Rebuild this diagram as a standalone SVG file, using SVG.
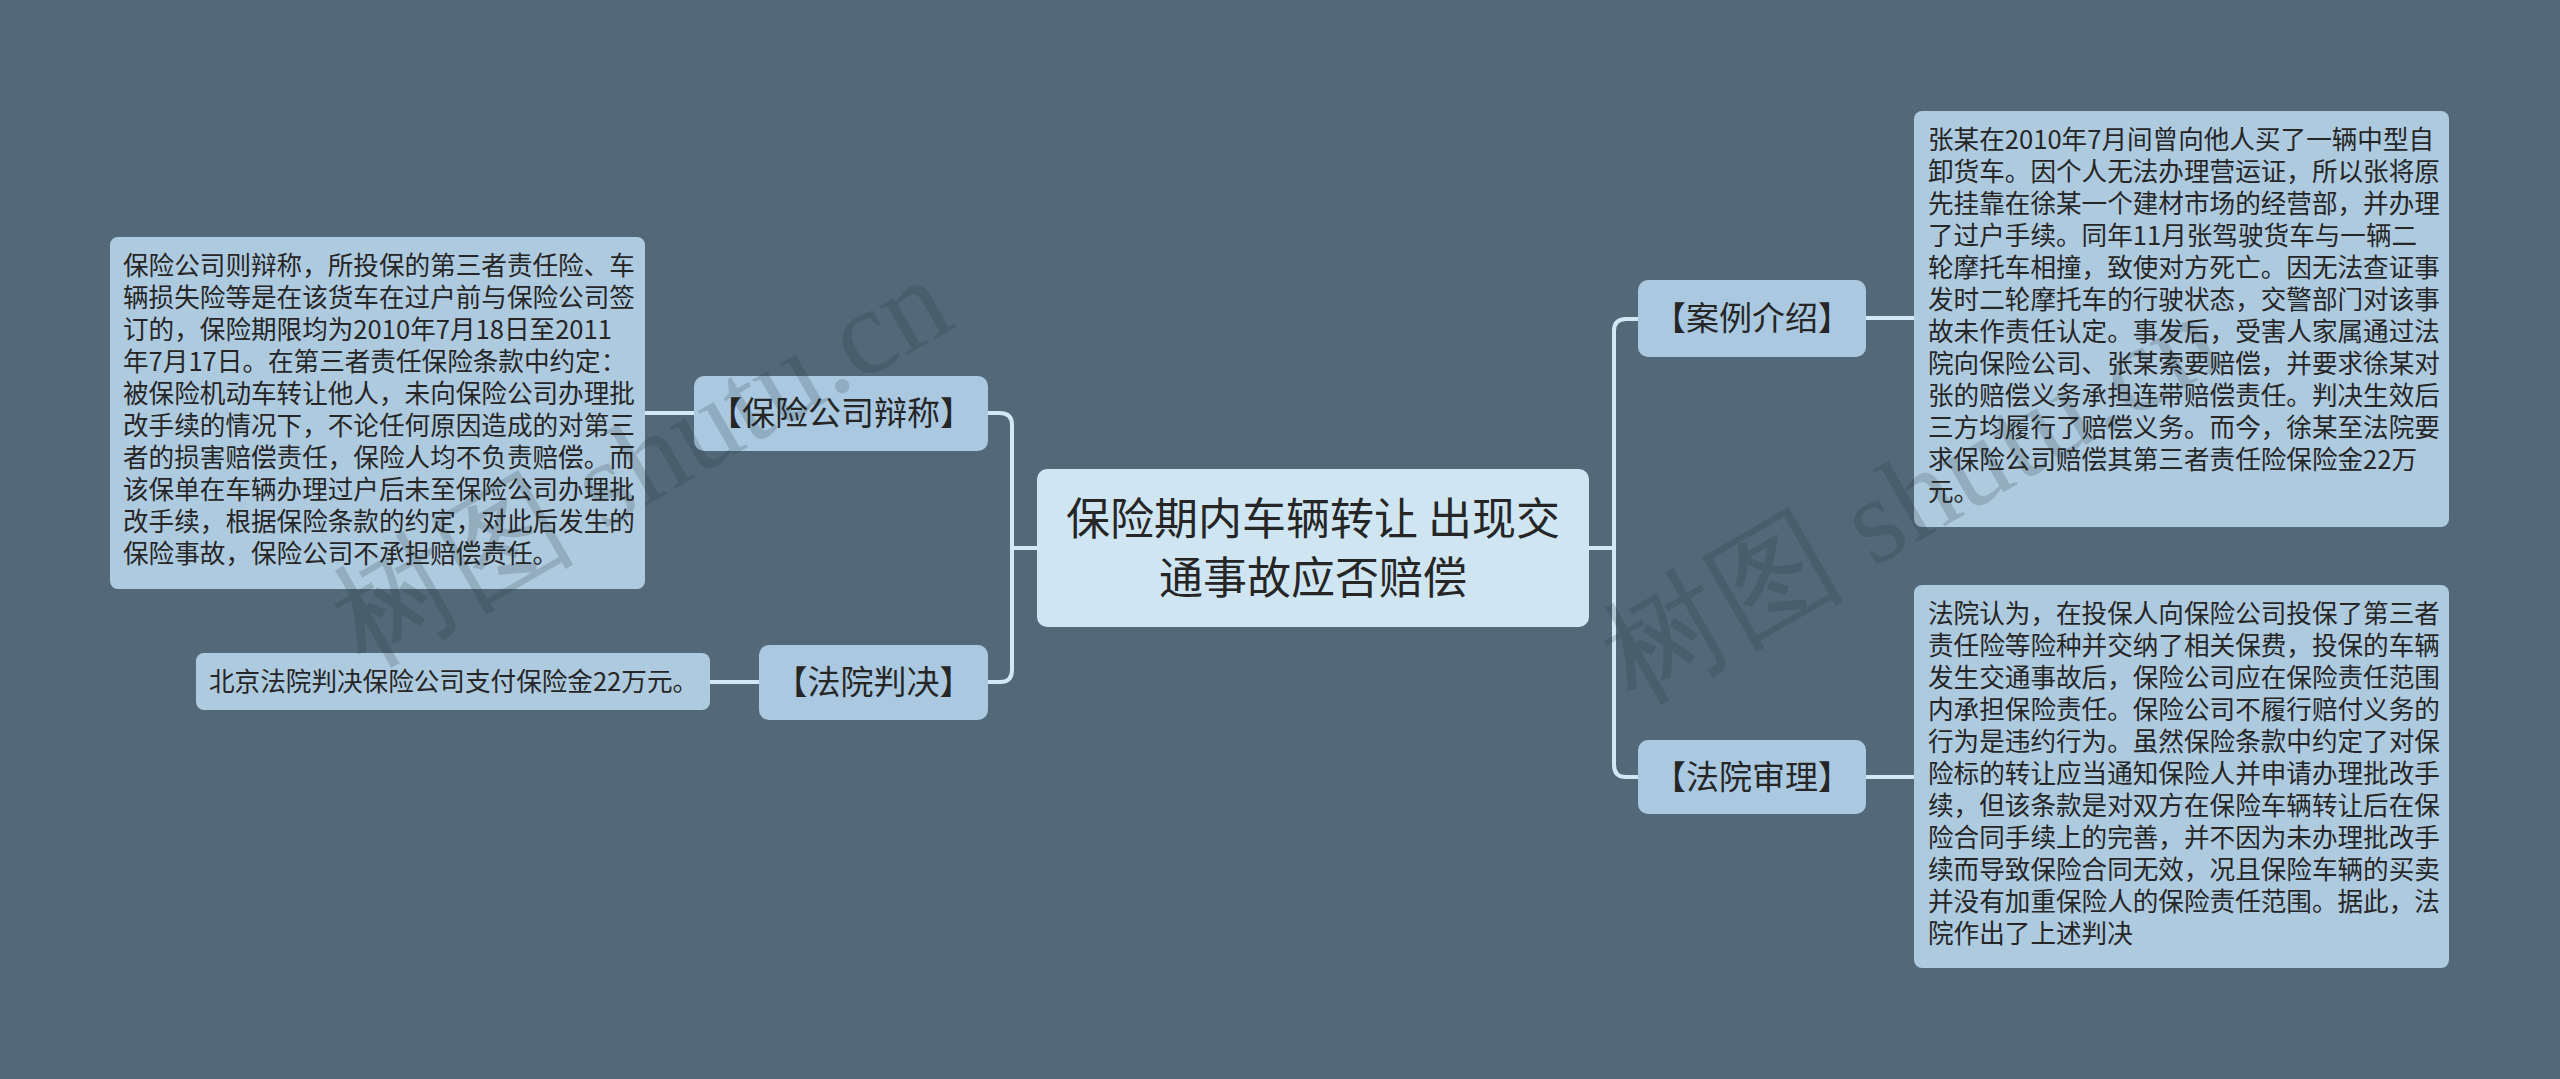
<svg xmlns="http://www.w3.org/2000/svg" width="2560" height="1079" viewBox="0 0 2560 1079">
<style>
.bg{fill:#536979}
.conn{fill:none;stroke:#d2e8f5;stroke-width:4;stroke-linecap:round;stroke-linejoin:round}
.root{fill:#cfe5f2}
.branch{fill:#aac9e0}
.leaf{fill:#aecadf}
text{font-family:"Noto Sans CJK SC","Noto Sans",sans-serif;fill:#262626}
.t-root{font-size:44px;text-anchor:middle}
.t-branch{font-size:33px;text-anchor:middle}
.t-leaf{font-size:25.6px}
.wm{font-family:"Liberation Serif","DejaVu Serif",serif;font-size:122px;fill:#1e2a33;fill-opacity:0.18}
</style>
<rect class="bg" x="0" y="0" width="2560" height="1079"/>
<g id="connectors">
<path class="conn" d="M1037,548 H1012"/>
<path class="conn" d="M988,413 H1000 Q1012,413 1012,425 V670 Q1012,682 1000,682 H988"/>
<path class="conn" d="M1589,548 H1614"/>
<path class="conn" d="M1638,319 H1626 Q1614,319 1614,331 V765 Q1614,777 1626,777 H1638"/>
<path class="conn" d="M694,413 H645"/>
<path class="conn" d="M759,682 H710"/>
<path class="conn" d="M1866,318 H1914"/>
<path class="conn" d="M1866,777 H1914"/>
</g>
<g id="root">
<rect class="root" x="1037" y="469" width="552" height="158" rx="10"/>
<text class="t-root" x="1313" y="535">保险期内车辆转让 出现交</text>
<text class="t-root" x="1313" y="594">通事故应否赔偿</text>
</g>
<g id="node-baoxian">
<rect class="branch" x="694" y="376" width="294" height="75" rx="10"/>
<text class="t-branch" x="841" y="425">【保险公司辩称】</text>
</g>
<g id="node-panjue">
<rect class="branch" x="759" y="645" width="229" height="75" rx="10"/>
<text class="t-branch" x="873.5" y="694">【法院判决】</text>
</g>
<g id="node-anli">
<rect class="branch" x="1638" y="280" width="228" height="77" rx="10"/>
<text class="t-branch" x="1752" y="330">【案例介绍】</text>
</g>
<g id="node-shenli">
<rect class="branch" x="1638" y="740" width="228" height="74" rx="10"/>
<text class="t-branch" x="1752" y="789">【法院审理】</text>
</g>
<g id="leaf-baoxian">
<rect class="leaf" x="110" y="237" width="535" height="352" rx="8"/>
<text class="t-leaf" x="123" y="275">
<tspan x="123" dy="0">保险公司则辩称，所投保的第三者责任险、车</tspan>
<tspan x="123" dy="32">辆损失险等是在该货车在过户前与保险公司签</tspan>
<tspan x="123" dy="32">订的，保险期限均为2010年7月18日至2011</tspan>
<tspan x="123" dy="32">年7月17日。在第三者责任保险条款中约定：</tspan>
<tspan x="123" dy="32">被保险机动车转让他人，未向保险公司办理批</tspan>
<tspan x="123" dy="32">改手续的情况下，不论任何原因造成的对第三</tspan>
<tspan x="123" dy="32">者的损害赔偿责任，保险人均不负责赔偿。而</tspan>
<tspan x="123" dy="32">该保单在车辆办理过户后未至保险公司办理批</tspan>
<tspan x="123" dy="32">改手续，根据保险条款的约定，对此后发生的</tspan>
<tspan x="123" dy="32">保险事故，保险公司不承担赔偿责任。</tspan>
</text>
</g>
<g id="leaf-panjue">
<rect class="leaf" x="196" y="653" width="514" height="57" rx="8"/>
<text class="t-leaf" x="209" y="691">北京法院判决保险公司支付保险金22万元。</text>
</g>
<g id="leaf-anli">
<rect class="leaf" x="1914" y="111" width="535" height="416" rx="8"/>
<text class="t-leaf" x="1928" y="149">
<tspan x="1928" dy="0">张某在2010年7月间曾向他人买了一辆中型自</tspan>
<tspan x="1928" dy="32">卸货车。因个人无法办理营运证，所以张将原</tspan>
<tspan x="1928" dy="32">先挂靠在徐某一个建材市场的经营部，并办理</tspan>
<tspan x="1928" dy="32">了过户手续。同年11月张驾驶货车与一辆二</tspan>
<tspan x="1928" dy="32">轮摩托车相撞，致使对方死亡。因无法查证事</tspan>
<tspan x="1928" dy="32">发时二轮摩托车的行驶状态，交警部门对该事</tspan>
<tspan x="1928" dy="32">故未作责任认定。事发后，受害人家属通过法</tspan>
<tspan x="1928" dy="32">院向保险公司、张某索要赔偿，并要求徐某对</tspan>
<tspan x="1928" dy="32">张的赔偿义务承担连带赔偿责任。判决生效后</tspan>
<tspan x="1928" dy="32">三方均履行了赔偿义务。而今，徐某至法院要</tspan>
<tspan x="1928" dy="32">求保险公司赔偿其第三者责任险保险金22万</tspan>
<tspan x="1928" dy="32">元。</tspan>
</text>
</g>
<g id="leaf-shenli">
<rect class="leaf" x="1914" y="585" width="535" height="383" rx="8"/>
<text class="t-leaf" x="1928" y="623">
<tspan x="1928" dy="0">法院认为，在投保人向保险公司投保了第三者</tspan>
<tspan x="1928" dy="32">责任险等险种并交纳了相关保费，投保的车辆</tspan>
<tspan x="1928" dy="32">发生交通事故后，保险公司应在保险责任范围</tspan>
<tspan x="1928" dy="32">内承担保险责任。保险公司不履行赔付义务的</tspan>
<tspan x="1928" dy="32">行为是违约行为。虽然保险条款中约定了对保</tspan>
<tspan x="1928" dy="32">险标的转让应当通知保险人并申请办理批改手</tspan>
<tspan x="1928" dy="32">续，但该条款是对双方在保险车辆转让后在保</tspan>
<tspan x="1928" dy="32">险合同手续上的完善，并不因为未办理批改手</tspan>
<tspan x="1928" dy="32">续而导致保险合同无效，况且保险车辆的买卖</tspan>
<tspan x="1928" dy="32">并没有加重保险人的保险责任范围。据此，法</tspan>
<tspan x="1928" dy="32">院作出了上述判决</tspan>
</text>
</g>
<text class="wm" transform="translate(365,668) rotate(-30)">树图 shutu.cn</text>
<text class="wm" transform="translate(1635,705) rotate(-30)">树图 shutu.cn</text>
</svg>
